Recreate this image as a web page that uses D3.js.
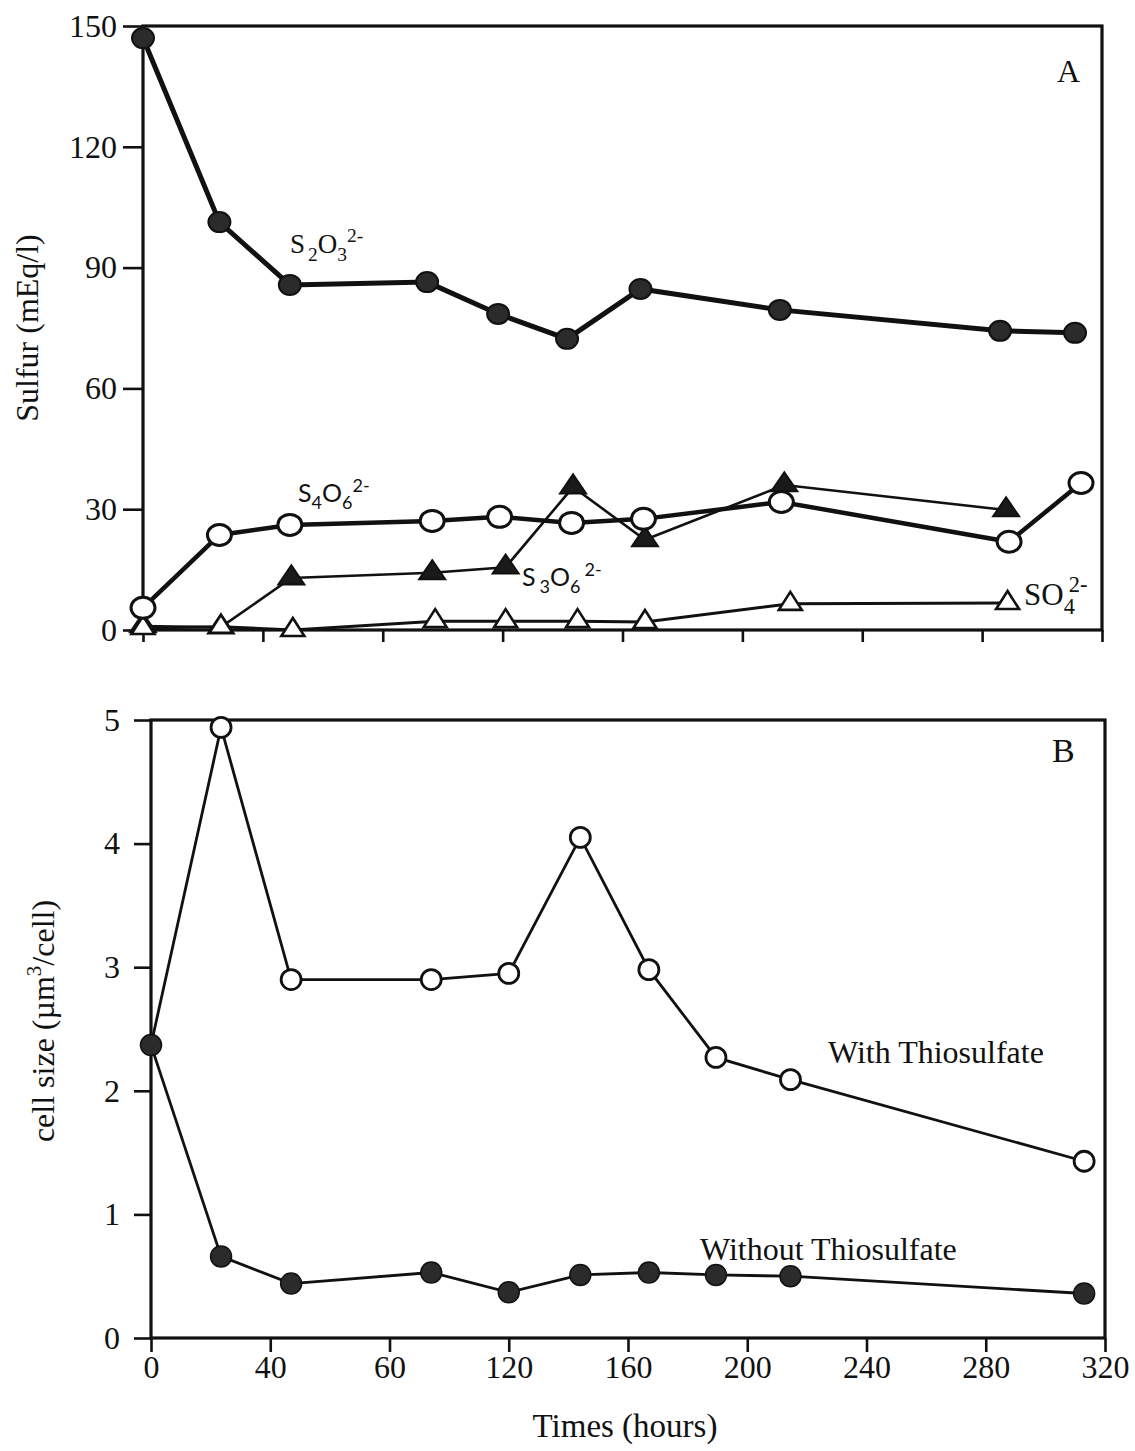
<!DOCTYPE html>
<html><head><meta charset="utf-8">
<script src="https://cdn.jsdelivr.net/npm/d3@7"></script>
<style>body{margin:0;background:#fff}</style>
</head><body>
<svg id="c" width="1135" height="1451" xmlns="http://www.w3.org/2000/svg"></svg>
<script>
// ---------- Data ----------
// Panel A : sulfur species (mEq/l) vs time (hours)
const thioTimes   = [0, 25.5, 49, 94.8, 118.5, 141.5, 166, 212.5, 286, 311];
const thioValues  = [147.0, 101.3, 85.7, 86.4, 78.5, 72.3, 84.7, 79.5, 74.3, 73.8];
const tetraTimes  = [0, 25.5, 49, 96.5, 119, 143, 167, 213, 289, 313];
const tetraValues = [5.5, 23.6, 26.1, 27.1, 28.1, 26.6, 27.6, 31.8, 21.9, 36.5];
const triTimes    = [0, 26, 49.5, 96.5, 121, 143.5, 167.5, 214, 288];
const triValues   = [1.0, 0.7, 12.9, 14.2, 15.6, 35.5, 22.4, 36.0, 29.8];
const sulfTimes   = [0, 26, 50, 97.5, 121, 145, 167.5, 216, 288.5];
const sulfValues  = [0.5, 0.8, 0, 2.2, 2.2, 2.2, 2.0, 6.5, 6.7];

// Panel B : cell size (um3/cell) vs time (hours)
const cellTimes     = [0, 23.5, 47, 94, 120, 144, 167, 189.5, 214.5, 313];
const withValues    = [2.37, 4.94, 2.90, 2.90, 2.95, 4.05, 2.98, 2.27, 2.09, 1.43];
const withoutValues = [2.37, 0.66, 0.44, 0.53, 0.37, 0.51, 0.53, 0.51, 0.50, 0.36];

// Ticks
const xTickValues = [0, 40, 80, 120, 160, 200, 240, 280, 320];
const xTickLabels = ["0", "40", "60", "120", "160", "200", "240", "280", "320"];
const yTicksA = [0, 30, 60, 90, 120, 150];
const yTicksB = [0, 1, 2, 3, 4, 5];

// ---------- Setup ----------
const svg = d3.select("#c");
const SERIF = "'Liberation Serif','Times New Roman',serif";
const SANS = "Lato,'Open Sans',sans-serif";
const INK = "#111";

const xA = d3.scaleLinear().domain([0, 320]).range([143, 1102]);
const yA = d3.scaleLinear().domain([0, 150]).range([630, 26]);
const xB = d3.scaleLinear().domain([0, 320]).range([151, 1105]);
const yB = d3.scaleLinear().domain([0, 5]).range([1338, 720]);

const zip = (t, v) => t.map((d, i) => [d, v[i]]);

function tri(w, h) {
  return `M0,${-h * 2 / 3}L${w / 2},${h / 3}L${-w / 2},${h / 3}Z`;
}

function frame(x, y, yTicks, tickFmt, xLabels, yTickSize, xTickSize, yPad) {
  const g = svg.append("g");
  const [x0, x1] = x.range();
  const [y0, y1] = y.range();
  g.append("rect").attr("x", x0).attr("y", y1).attr("width", x1 - x0).attr("height", y0 - y1)
    .attr("fill", "none").attr("stroke", INK).attr("stroke-width", 3.2);
  const ax = g.append("g").attr("transform", `translate(${x0},0)`)
    .call(d3.axisLeft(y).tickValues(yTicks).tickFormat(tickFmt).tickSize(yTickSize).tickPadding(yPad));
  const bx = g.append("g").attr("transform", `translate(0,${y0})`)
    .call(d3.axisBottom(x).tickValues(xTickValues)
      .tickFormat((d, i) => xLabels ? xLabels[i] : "").tickSize(xTickSize).tickPadding(3));
  [ax, bx].forEach(a => {
    a.select(".domain").remove();
    a.selectAll(".tick line").attr("stroke", INK).attr("stroke-width", 2.6);
    a.selectAll(".tick text").attr("fill", INK).attr("font-family", SERIF).attr("font-size", 32);
  });
  return g;
}

function chem(x, y, parts, size, family) {
  const t = svg.append("text").attr("x", x).attr("y", y)
    .attr("font-family", family).attr("font-size", size).attr("fill", INK);
  let shift = 0;
  parts.forEach(p => {
    const target = p.k === "sub" ? size * 0.28 : p.k === "sup" ? -size * 0.42 : 0;
    const ts = t.append("tspan").text(p.t).attr("dy", target - shift);
    if (p.k) ts.attr("font-size", size * 0.72);
    if (p.dx) ts.attr("dx", p.dx);
    shift = target;
  });
  return t;
}

// ---------- Panel A ----------
frame(xA, yA, yTicksA, d => d, null, 20, 12, 6);

const lineA = d3.line().x(d => xA(d[0])).y(d => yA(d[1]));
const gA = svg.append("g");

gA.append("path").datum(zip(sulfTimes, sulfValues)).attr("d", lineA)
  .attr("fill", "none").attr("stroke", INK).attr("stroke-width", 3);
gA.append("path").datum(zip(triTimes, triValues)).attr("d", lineA)
  .attr("fill", "none").attr("stroke", INK).attr("stroke-width", 2.6);
gA.append("path").datum(zip(tetraTimes, tetraValues)).attr("d", lineA)
  .attr("fill", "none").attr("stroke", INK).attr("stroke-width", 4.5);
gA.append("path").datum(zip(thioTimes, thioValues)).attr("d", lineA)
  .attr("fill", "none").attr("stroke", INK).attr("stroke-width", 5);

gA.selectAll(".triF").data(zip(triTimes, triValues)).join("path")
  .attr("transform", d => `translate(${xA(d[0])},${yA(d[1])})`)
  .attr("d", tri(26, 19)).attr("fill", "#1a1a1a").attr("stroke", INK).attr("stroke-width", 2);
gA.selectAll(".triO").data(zip(sulfTimes, sulfValues)).join("path")
  .attr("transform", d => `translate(${xA(d[0])},${yA(d[1])})`)
  .attr("d", tri(23, 18)).attr("fill", "#fff").attr("stroke", INK).attr("stroke-width", 2.6);
gA.selectAll(".circO").data(zip(tetraTimes, tetraValues)).join("ellipse")
  .attr("cx", d => xA(d[0])).attr("cy", d => yA(d[1])).attr("rx", 12).attr("ry", 10.5)
  .attr("fill", "#fff").attr("stroke", INK).attr("stroke-width", 3);
gA.selectAll(".circF").data(zip(thioTimes, thioValues)).join("ellipse")
  .attr("cx", d => xA(d[0])).attr("cy", d => yA(d[1])).attr("rx", 11).attr("ry", 10)
  .attr("fill", "#2b2b2b").attr("stroke", INK).attr("stroke-width", 2);

chem(290, 253, [{t: "S"}, {t: "2", k: "sub", dx: 3}, {t: "O"}, {t: "3", k: "sub"}, {t: "2-", k: "sup"}], 27, SERIF);
chem(298, 502, [{t: "S"}, {t: "4", k: "sub"}, {t: "O"}, {t: "6", k: "sub"}, {t: "2-", k: "sup"}], 25, SANS);
chem(522, 586, [{t: "S"}, {t: "3", k: "sub", dx: 4}, {t: "O"}, {t: "6", k: "sub"}, {t: "2-", k: "sup", dx: 4}], 25, SANS);
chem(1024, 605, [{t: "SO"}, {t: "4", k: "sub"}, {t: "2-", k: "sup", dx: -6}], 31, SERIF);

svg.append("text").attr("x", 1057).attr("y", 82).attr("font-family", SERIF)
  .attr("font-size", 32).attr("fill", INK).text("A");

svg.append("text").attr("transform", "translate(38,328) rotate(-90)")
  .attr("text-anchor", "middle").attr("font-family", SERIF).attr("font-size", 32)
  .attr("fill", INK).text("Sulfur (mEq/l)");

// ---------- Panel B ----------
frame(xB, yB, yTicksB, d => d, xTickLabels, 17, 14, 14);

const lineB = d3.line().x(d => xB(d[0])).y(d => yB(d[1]));
const gB = svg.append("g");
gB.append("path").datum(zip(cellTimes, withValues)).attr("d", lineB)
  .attr("fill", "none").attr("stroke", INK).attr("stroke-width", 2.8);
gB.append("path").datum(zip(cellTimes, withoutValues)).attr("d", lineB)
  .attr("fill", "none").attr("stroke", INK).attr("stroke-width", 2.8);

gB.selectAll(".bo").data(zip(cellTimes, withValues).slice(1)).join("circle")
  .attr("cx", d => xB(d[0])).attr("cy", d => yB(d[1])).attr("r", 10)
  .attr("fill", "#fff").attr("stroke", INK).attr("stroke-width", 2.8);
gB.selectAll(".bf").data(zip(cellTimes, withoutValues)).join("circle")
  .attr("cx", d => xB(d[0])).attr("cy", d => yB(d[1])).attr("r", 10.5)
  .attr("fill", "#2b2b2b").attr("stroke", INK).attr("stroke-width", 1.5);

svg.append("text").attr("x", 828).attr("y", 1063).attr("font-family", SERIF)
  .attr("font-size", 32).attr("fill", INK).text("With Thiosulfate");
svg.append("text").attr("x", 700).attr("y", 1260).attr("font-family", SERIF)
  .attr("font-size", 32).attr("fill", INK).text("Without Thiosulfate");
svg.append("text").attr("x", 1052).attr("y", 762).attr("font-family", SERIF)
  .attr("font-size", 34).attr("fill", INK).text("B");

const yTitleB = svg.append("text").attr("transform", "translate(54,1021) rotate(-90)")
  .attr("text-anchor", "middle").attr("font-family", SERIF).attr("font-size", 32).attr("fill", INK);
yTitleB.append("tspan").text("cell size (\u00b5m");
yTitleB.append("tspan").text("3").attr("font-size", 21).attr("dy", -13);
yTitleB.append("tspan").text("/cell)").attr("dy", 13);

svg.append("text").attr("x", 625).attr("y", 1437).attr("text-anchor", "middle")
  .attr("font-family", SERIF).attr("font-size", 33).attr("fill", INK).text("Times (hours)");
</script>
</body></html>
